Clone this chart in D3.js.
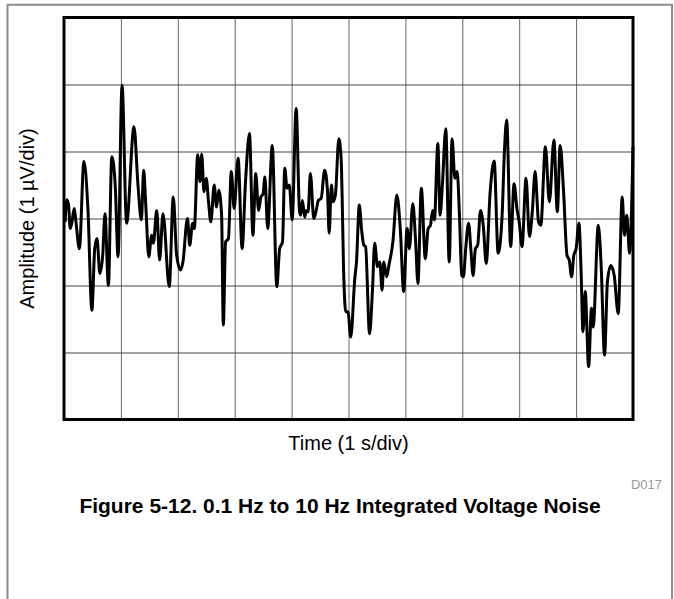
<html>
<script src="https://d3js.org/d3.v7.min.js"></script>
<body style="margin:0">
<script>
// time in seconds, amplitude in uV
var time = [0.02, 0.05, 0.08, 0.11, 0.14, 0.18, 0.21, 0.27, 0.35, 0.42, 0.49, 0.54, 0.58, 0.63, 0.68, 0.72, 0.78, 0.84, 0.90, 0.95,
    1.02, 1.10, 1.23, 1.30, 1.36, 1.40, 1.44, 1.49, 1.54, 1.57, 1.63, 1.68, 1.74, 1.85, 1.92, 1.98,
    2.05, 2.09, 2.17, 2.21, 2.26, 2.29, 2.35, 2.39, 2.42, 2.46, 2.50, 2.54, 2.58, 2.64, 2.68, 2.72, 2.77, 2.80, 2.84, 2.89,
    2.94, 2.99, 3.06, 3.13, 3.19, 3.26, 3.32, 3.37, 3.42, 3.46, 3.50, 3.53, 3.58, 3.66, 3.74, 3.79, 3.84, 3.88, 3.92, 3.96, 4.01,
    4.08, 4.14, 4.16, 4.19, 4.23, 4.26, 4.29, 4.33, 4.39, 4.44, 4.47, 4.52, 4.58, 4.63, 4.66, 4.70, 4.73, 4.77, 4.83, 4.87,
    4.92, 4.95, 4.99, 5.04, 5.11, 5.14, 5.19, 5.23, 5.27, 5.30, 5.37, 5.42, 5.46, 5.51, 5.55, 5.59, 5.62, 5.67, 5.71, 5.78,
    5.85, 5.91, 5.97, 6.03,
    6.07, 6.13, 6.18, 6.22, 6.28, 6.35, 6.40, 6.44, 6.48, 6.51, 6.57, 6.61, 6.65, 6.71, 6.77, 6.82, 6.87, 6.91, 6.95, 6.99,
    7.02, 7.06, 7.11, 7.15, 7.19, 7.23, 7.27, 7.32, 7.37, 7.42, 7.49, 7.56, 7.63, 7.70, 7.74, 7.78, 7.85, 7.91, 7.96, 8.00, 8.05,
    8.12, 8.18, 8.23, 8.28, 8.34, 8.38, 8.46, 8.53, 8.61, 8.67, 8.72, 8.78, 8.84, 8.88, 8.92, 8.96, 9.00, 9.05, 9.09, 9.12,
    9.16, 9.22, 9.27, 9.30, 9.39, 9.44, 9.50, 9.55, 9.61, 9.67, 9.74, 9.81, 9.85, 9.89, 9.94, 10.0]
var amplitude = [-0.05, 0.28, 0.20, -0.15, -0.05, 0.15, -0.05, -0.45, 0.85, 0.15, -1.37, -0.45, -0.30, -0.82, -0.55, 0.07, -1.00, 0.92, 0.50, -0.57,
    1.99, -0.07, 1.37, 0.50, -0.02, 0.72, 0.15, -0.57, -0.25, -0.37, 0.12, -0.62, 0.07, -1.02, 0.32, -0.55,
    -0.77, -0.65, 0.00, -0.40, -0.07, -0.15, 0.95, 0.55, 0.96, 0.40, 0.60, 0.25, -0.05, 0.50, 0.17, 0.42, 0.05, -1.59, -0.35, -0.30,
    0.70, 0.15, 0.90, -0.45, 0.55, 1.27, -0.25, 0.67, 0.12, 0.32, 0.37, 0.62, -0.15, 1.09, -1.02, -0.45, -0.35, 0.75, 0.45, 0.50, -0.02,
    1.64, 0.10, 0.05, 0.27, 0.02, 0.12, 0.10, 0.67, 0.00, 0.15, 0.27, 0.30, 0.72, 0.42, -0.22, 0.50, 0.25, 0.35, 1.19, 0.90,
    -0.95, -1.39, -1.39, -1.77, -0.90, -0.65, 0.20, -0.17, -0.40, -0.42, -1.72, -1.09, -0.37, -0.72, -0.65, -1.07, -0.65, -0.87, -0.70, -0.35,
    0.35, -0.15, -1.09, -0.15,
    -0.45, 0.22, -0.35, -0.97, 0.45, -0.60, -0.15, -0.10, 0.12, -0.02, 1.12, 0.05, 0.50, 1.34, -0.65, 1.19, 0.60, 0.70, 0.05, -0.85,
    -0.87, -0.45, -0.07, -0.45, -0.85, -0.45, -0.40, 0.12, -0.12, -0.67, 0.40, 0.86, -0.52, 0.05, 1.00, 1.47, -0.42, 0.52, 0.15, -0.05, -0.42,
    0.60, -0.27, 0.10, 0.70, -0.05, -0.10, 1.07, 0.25, 1.17, 0.10, 1.09, 0.40, -0.55, -0.62, -0.87, -0.55, -0.45, -0.07, -0.85, -1.69,
    -1.09, -2.21, -1.34, -1.62, -0.10, -0.70, -2.04, -0.95, -0.70, -0.85, -1.42, 0.32, -0.25, 0.05, -0.52, 1.07]

var timeDivs = [0, 1, 2, 3, 4, 5, 6, 7, 8, 9, 10]
var ampDivs = [-3, -2, -1, 0, 1, 2, 3]

var xLabel = 'Time (1 s/div)'
var yLabel = 'Amplitude (1 \u00B5V/div)'
var figTitle = 'Figure 5-12. 0.1 Hz to 10 Hz Integrated Voltage Noise'
var figId = 'D017'

var width = 674, height = 599
var plotL = 64, plotR = 633, plotT = 17.5, plotB = 419.5

var svg = d3.select('body').append('svg').attr('width', width).attr('height', height)
    .style('font-family', 'Liberation Sans, Arial, sans-serif')

// page frame
svg.append('path').attr('d', 'M7.5,599V4.7H672V599').attr('fill', 'none')
    .attr('stroke', '#8c8c8c').attr('stroke-width', 2)

var x = d3.scaleLinear().domain([0, 10]).range([plotL, plotR])
var y = d3.scaleLinear().domain([-3, 3]).range([plotB, plotT])

// grid
var gx = svg.append('g').attr('transform', `translate(0, ${plotB})`)
    .call(d3.axisBottom(x).tickValues(timeDivs).tickSize(-(plotB - plotT)).tickFormat(''))
gx.select('.domain').remove()
gx.selectAll('line').attr('stroke', '#666')

var gy = svg.append('g').attr('transform', `translate(${plotL}, 0)`)
    .call(d3.axisLeft(y).tickValues(ampDivs).tickSize(-(plotR - plotL)).tickFormat(''))
gy.select('.domain').remove()
gy.selectAll('line').attr('stroke', '#444')

// trace
var pts = time.map(function(t, i) { return [t, amplitude[i]] })
var line = d3.line().x(function(d) { return x(d[0]) }).y(function(d) { return y(d[1]) })
    .curve(d3.curveMonotoneX)
svg.append('path').datum(pts).attr('d', line).attr('fill', 'none')
    .attr('stroke', '#000').attr('stroke-width', 3).attr('stroke-linejoin', 'round')

// plot frame
svg.append('rect').attr('x', plotL).attr('y', plotT).attr('width', plotR - plotL).attr('height', plotB - plotT)
    .attr('fill', 'none').attr('stroke', '#000').attr('stroke-width', 3)

// labels
svg.append('text').text(xLabel).attr('x', (plotL + plotR) / 2).attr('y', 450)
    .attr('text-anchor', 'middle').attr('font-size', 20)
svg.append('text').text(yLabel).attr('transform', `translate(34, ${(plotT + plotB) / 2}) rotate(-90)`)
    .attr('text-anchor', 'middle').attr('font-size', 20)
svg.append('text').text(figId).attr('x', 662).attr('y', 489)
    .attr('text-anchor', 'end').attr('font-size', 13).attr('fill', '#999')
svg.append('text').text(figTitle).attr('x', 340).attr('y', 513)
    .attr('text-anchor', 'middle').attr('font-size', 21).attr('font-weight', 'bold')
</script>
</body>
</html>
